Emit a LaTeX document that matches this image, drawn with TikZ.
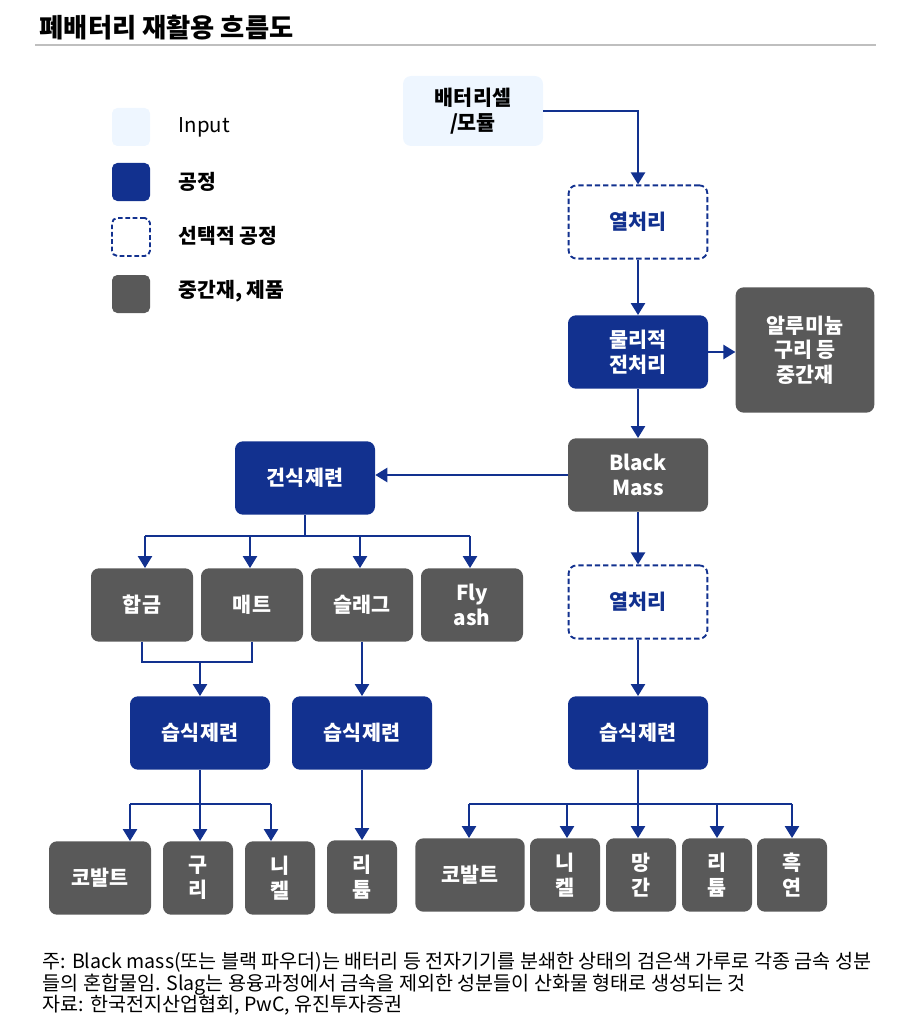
\documentclass[tikz,border=0pt]{standalone}
\usepackage{fontspec}
\setmainfont{Noto Sans CJK KR}
\usetikzlibrary{arrows.meta,calc}
\definecolor{navy}{HTML}{12318F}
\definecolor{slate}{HTML}{595959}
\definecolor{pale}{HTML}{EEF6FF}

\begin{document}
\begin{tikzpicture}[x=0.75pt,y=-0.75pt,
  box/.style={rectangle,rounded corners=6pt,minimum height=55pt,inner sep=0pt,align=center,
    font=\bfseries\fontsize{15.5}{18.5}\selectfont},
  proc/.style={box,fill=navy,text=white,minimum width=105pt},
  opt/.style={box,draw=navy,line width=1.4pt,dash pattern=on 4pt off 2.2pt,fill=white,text=navy,minimum width=104pt},
  mid/.style={box,fill=slate,text=white},
  inbox/.style={box,fill=pale,text=black,minimum width=105pt,minimum height=52.5pt},
  key/.style={rectangle,rounded corners=4pt,minimum size=28.5pt,inner sep=0pt},
  keytext/.style={anchor=west,font=\bfseries\fontsize{15.3}{17}\selectfont},
  arr/.style={navy,line width=1.8pt,-{Triangle[width=10.5pt,length=9pt]}},
  link/.style={navy,line width=0.9pt},
  note/.style={anchor=base west,font=\fontsize{14.7}{16}\selectfont}]
  \useasboundingbox (0,0) rectangle (916,1027);

  \node[anchor=base west,font=\bfseries\fontsize{19.7}{22}\selectfont] (title) at (35,38) {폐배터리 재활용 흐름도};
  \draw[black!25,line width=1.1pt] (35,45) -- (876,45);

  \node[key,fill=pale] (k1) at (131,127) {};
  \node[key,fill=navy] (k2) at (131,182) {};
  \node[key,draw=navy,line width=1.4pt,dash pattern=on 3.5pt off 2pt] (k3) at (131,237) {};
  \node[key,fill=slate] (k4) at (131,294) {};
  \node[keytext,font=\fontsize{15.3}{17}\selectfont] (t1) at (174,127) {Input};
  \node[keytext] (t2) at (174,182) {공정};
  \node[keytext] (t3) at (174,236) {선택적 공정};
  \node[keytext] (t4) at (174,291) {중간재, 제품};

  \node[inbox] (cell) at (473,111) {배터리셀\\/모듈};
  \node[opt] (heat1) at (638,222) {열처리};
  \node[proc] (pre) at (638,352) {물리적\\전처리};
  \node[mid,minimum width=104pt,minimum height=94pt] (alu) at (805,350) {알루미늄\\구리 등\\중간재};
  \node[mid,minimum width=105pt] (bm) at (638,475) {Black\\Mass};
  \node[proc] (dry) at (305,478) {건식제련};
  \node[opt] (heat2) at (638,602) {열처리};

  \node[mid,minimum width=76.5pt] (alloy) at (142,605) {합금};
  \node[mid,minimum width=76.5pt] (matte) at (252,605) {매트};
  \node[mid,minimum width=76.5pt] (slag) at (362,605) {슬래그};
  \node[mid,minimum width=76.5pt] (fly) at (472,605) {Fly\\ash};

  \node[proc] (wet1) at (200,733) {습식제련};
  \node[proc] (wet2) at (362,733) {습식제련};
  \node[proc] (wet3) at (638,733) {습식제련};

  \node[mid,minimum width=76.5pt] (co1) at (100,878) {코발트};
  \node[mid,minimum width=52.5pt] (cu) at (198,878) {구\\리};
  \node[mid,minimum width=52.5pt] (ni1) at (280,878) {니\\켈};
  \node[mid,minimum width=52.5pt] (li1) at (362,877) {리\\튬};
  \node[mid,minimum width=82pt] (co2) at (470,875) {코발트};
  \node[mid,minimum width=52.5pt] (ni2) at (565,875) {니\\켈};
  \node[mid,minimum width=52.5pt] (mn) at (641,875) {망\\간};
  \node[mid,minimum width=52.5pt] (li2) at (717,875) {리\\튬};
  \node[mid,minimum width=52.5pt] (gr) at (792,875) {흑\\연};

  \draw[arr] (cell.east) -| (heat1.north);
  \draw[arr] (heat1.south) -- (pre.north);
  \draw[arr] (pre.east) -- (pre.east -| alu.west);
  \draw[arr] (pre.south) -- (bm.north);
  \draw[arr] (bm.west) -- (bm.west -| dry.east);
  \draw[arr] (bm.south) -- (heat2.north);
  \draw[arr] (heat2.south) -- (wet3.north);

  \coordinate (dj) at ($(dry.south)+(0,21)$);
  \draw[link] (dry.south) -- (dj);
  \draw[link] ($(alloy.north |- dj)+(3,0)$) -- ($(fly.north |- dj)+(-2,0)$);
  \foreach \n/\dx in {alloy/3,matte/-2,slag/-2,fly/-2}
    \draw[arr] ($(\n.north |- dj)+(\dx,0)$) -- ($(\n.north)+(\dx,0)$);

  \coordinate (mj) at ($(alloy.south)+(0,20)$);
  \draw[link] (alloy.south) -- (mj) -| (matte.south);
  \draw[arr] (wet1.north |- mj) -- (wet1.north);
  \draw[arr] (slag) -- (wet2);

  \coordinate (w1) at ($(wet1.south)+(0,34)$);
  \draw[link] (wet1.south) -- (w1);
  \draw[link] ($(co1.north |- w1)+(30,0)$) -- ($(ni1.north |- w1)+(-9,0)$);
  \foreach \n/\dx in {co1/30,cu/2,ni1/-9}
    \draw[arr] ($(\n.north |- w1)+(\dx,0)$) -- ($(\n.north)+(\dx,0)$);
  \draw[arr] (wet2) -- (li1);

  \coordinate (w3) at ($(wet3.south)+(0,34)$);
  \draw[link] (wet3.south) -- (w3);
  \draw[link] ($(co2.north |- w3)+(-1,0)$) -- (gr.north |- w3);
  \foreach \n/\dx in {co2/-1,ni2/2,mn/-3,li2/0,gr/0}
    \draw[arr] ($(\n.north |- w3)+(\dx,0)$) -- ($(\n.north)+(\dx,0)$);

  \node[note] (n1) at (38,968) {주: Black mass(또는 블랙 파우더)는 배터리 등 전자기기를 분쇄한 상태의 검은색 가루로 각종 금속 성분};
  \node[note] (n2) at (38,990) {들의 혼합물임. Slag는 용융과정에서 금속을 제외한 성분들이 산화물 형태로 생성되는 것};
  \node[note] (n3) at (38,1011) {자료: 한국전지산업협회, PwC, 유진투자증권};
\end{tikzpicture}
\end{document}
